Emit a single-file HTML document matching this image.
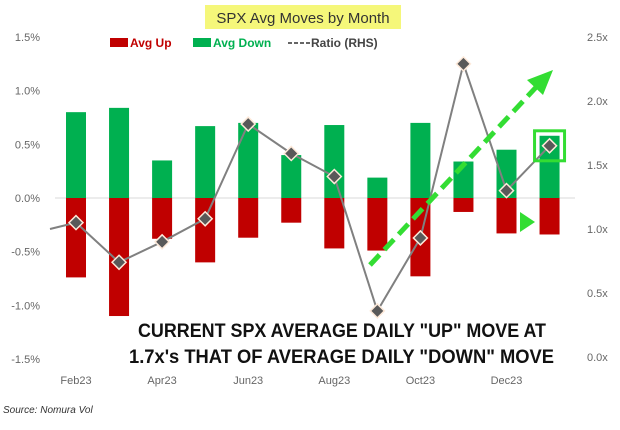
<!DOCTYPE html>
<html><head><meta charset="utf-8"><style>
body{margin:0;background:#fff;width:620px;height:425px;overflow:hidden}
svg text{font-family:"Liberation Sans",sans-serif}
</style></head><body>
<svg width="620" height="425" viewBox="0 0 620 425" xmlns="http://www.w3.org/2000/svg">
<rect x="205" y="5" width="196" height="24" fill="#f5f77a"/>
<text x="303" y="23" font-size="15" text-anchor="middle" fill="#333">SPX Avg Moves by Month</text>
<g font-size="12" font-weight="bold">
<rect x="110" y="38" width="18" height="9" fill="#c00000"/><text x="130" y="47" fill="#c00000">Avg Up</text>
<rect x="193" y="38" width="18" height="9" fill="#00b050"/><text x="213" y="47" fill="#00b050">Avg Down</text>
<line x1="288" y1="43" x2="310" y2="43" stroke="#666" stroke-width="2" stroke-dasharray="4,2"/><text x="311" y="47" fill="#444">Ratio (RHS)</text>
</g>
<g id="axes"></g><g id="bars"></g><g id="line"></g>
<g font-size="19" font-weight="bold" fill="#111">
<text x="138" y="337" textLength="408" lengthAdjust="spacingAndGlyphs">CURRENT SPX AVERAGE DAILY "UP" MOVE AT</text>
<text x="129" y="363" textLength="425" lengthAdjust="spacingAndGlyphs">1.7x's THAT OF AVERAGE DAILY "DOWN" MOVE</text>
</g>
<text x="3" y="413" font-size="10" font-style="italic" fill="#333">Source: Nomura Vol</text>
</svg>
<script>
const months=["Feb23","Mar23","Apr23","May23","Jun23","Jul23","Aug23","Sep23","Oct23","Nov23","Dec23","Jan24"];
const avgDown=[0.80,0.84,0.35,0.67,0.70,0.40,0.68,0.19,0.70,0.34,0.45,0.58];
const avgUp=[-0.74,-1.10,-0.38,-0.60,-0.37,-0.23,-0.47,-0.49,-0.73,-0.13,-0.33,-0.34];
const ratio=[1.05,0.74,0.90,1.08,1.82,1.59,1.41,0.36,0.93,2.29,1.30,1.65];
const leftTicks=[1.5,1.0,0.5,0.0,-0.5,-1.0,-1.5];
const rightTicks=[2.5,2.0,1.5,1.0,0.5,0.0];
const NS="http://www.w3.org/2000/svg";
const yL=v=>198-v*107.3, yR=v=>357-v*128, xC=i=>76+i*43.05;
function mk(t,a,p){const e=document.createElementNS(NS,t);for(const k in a)e.setAttribute(k,a[k]);p.appendChild(e);return e;}
const ax=document.getElementById('axes'),bg=document.getElementById('bars'),lg=document.getElementById('line');
leftTicks.forEach(v=>{const t=mk('text',{x:40,y:yL(v)+4,'font-size':11,'text-anchor':'end',fill:'#666'},ax);t.textContent=v.toFixed(1)+'%';
});
rightTicks.forEach(v=>{const t=mk('text',{x:587,y:yR(v)+4,'font-size':11,fill:'#666'},ax);t.textContent=v.toFixed(1)+'x';
});
months.forEach((m,i)=>{if(i%2)return;const t=mk('text',{x:xC(i),y:384,'font-size':11,'text-anchor':'middle',fill:'#666'},ax);t.textContent=m;
});
const zl=mk('line',{x1:55,x2:575,y1:yL(0),y2:yL(0),stroke:'#d9d9d9','stroke-width':1},ax);

months.forEach((m,i)=>{
 const g=mk('rect',{x:xC(i)-10,width:20,y:yL(avgDown[i]),height:yL(0)-yL(avgDown[i]),fill:'#00b050'},bg);
 
 const r=mk('rect',{x:xC(i)-10,width:20,y:yL(0),height:yL(avgUp[i])-yL(0),fill:'#c00000'},bg);
 
});
let d='M50,'+yR(1.0);ratio.forEach((v,i)=>{d+=' L'+xC(i)+','+yR(v);});
const pl=mk('path',{d:d,fill:'none',stroke:'#808080','stroke-width':2},lg);

ratio.forEach((v,i)=>{const x=xC(i),y=yR(v);
 const p=mk('polygon',{points:`${x},${y-7} ${x+7},${y} ${x},${y+7} ${x-7},${y}`,fill:'#595959',stroke:'#fde9d9','stroke-width':1.5},lg);
 });
const i=11;const sq=mk('rect',{x:xC(i)-15,y:yR(ratio[i])-15,width:30,height:30,fill:'none',stroke:'#33dd33','stroke-width':3},lg);

const ar=mk('line',{x1:370,y1:265,x2:540,y2:83,stroke:'#33dd33','stroke-width':5,'stroke-dasharray':'14,7'},lg);

const ah=mk('polygon',{points:'553,70 527,80 543,95',fill:'#33dd33'},lg);

const tr=mk('polygon',{points:'520,212 520,232 535,222',fill:'#33dd33'},lg);

</script>
</body></html>
